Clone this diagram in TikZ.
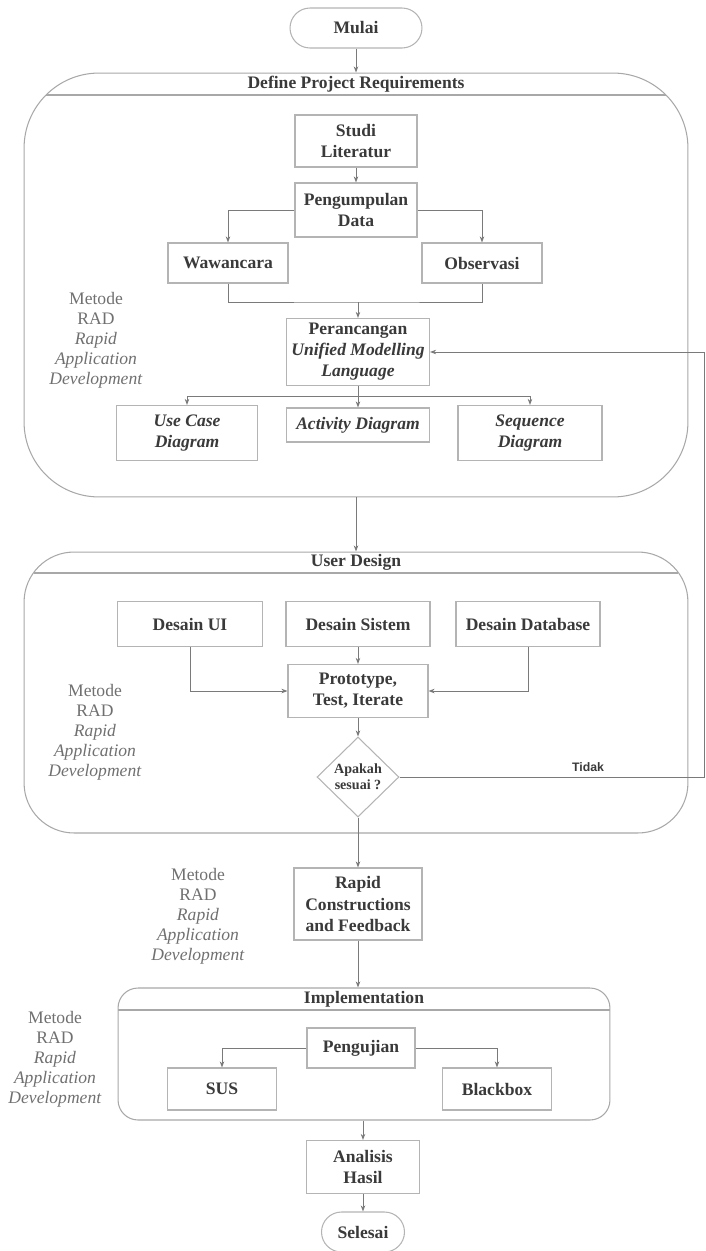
\documentclass[tikz,border=0pt]{standalone}
\usepackage{fontspec}
\setmainfont{Liberation Serif}
\newfontfamily\tidakfont{Liberation Sans}
\usetikzlibrary{arrows.meta,shapes.geometric}
\definecolor{boxline}{HTML}{B4B4B4}
\definecolor{frameline}{HTML}{A8A8A8}
\definecolor{arrline}{HTML}{7A7A7A}
\definecolor{txt}{HTML}{3A3A3A}
\definecolor{radtxt}{HTML}{707070}

\begin{document}
\begin{tikzpicture}[x=0.02cm,y=-0.02cm,
 box/.style={draw=boxline,line width=.6pt,fill=white,text=txt,font=\bfseries,align=center,inner sep=1pt},
 term/.style={box,rounded corners=.4cm},
 frame/.style={draw=frameline,line width=.6pt},
 head/.style={text=txt,font=\bfseries},
 rad/.style={text=radtxt,align=center,font=\fontsize{10}{11.4}\selectfont},
 line/.style={draw=arrline,line width=.5pt},
 conn/.style={line,-{Stealth[length=3.5pt,width=2.6pt]}},
 ]
\useasboundingbox (0,0) rectangle (706,1251);

%Kontainer
\node[frame,rounded corners=1.5cm,minimum width=13.28cm,minimum height=8.48cm] (req) at (356,285) {};
\node[frame,rounded corners=1cm,minimum width=13.28cm,minimum height=5.62cm] (design) at (356,692.5) {};
\node[frame,rounded corners=.4cm,minimum width=9.84cm,minimum height=2.64cm] (impl) at (364,1054) {};
\draw[frame] (46,95) -- (666,95)
 (34,573) -- (678,573)
 (118,1010) -- (610,1010);
\node[head] (reqh) at (356,84) {Define Project Requirements};
\node[head] (desh) at (356,562) {User Design};
\node[head] (implh) at (364,999) {Implementation};

%Metode
\foreach \n/\x/\y in {radA/96/340,radB/95/732,radC/198/916,radD/55/1059}
 \node[rad] (\n) at (\x,\y) {Metode\\RAD\\\textit{Rapid}\\\textit{Application}\\\textit{Development}};

\node[term,minimum width=2.64cm,minimum height=.8cm] (mulai) at (356,28) {Mulai};
\node[box,minimum width=2.44cm,minimum height=1.04cm] (studi) at (356,141) {Studi\\Literatur};
\node[box,minimum width=2.44cm,minimum height=1.08cm] (kumpul) at (356,210) {Pengumpulan\\Data};
\node[box,minimum width=2.4cm,minimum height=.8cm] (wawan) at (228,263) {Wawancara};
\node[box,minimum width=2.4cm,minimum height=.8cm] (obs) at (482,263) {Observasi};
\node[box,minimum width=2.86cm,minimum height=1.34cm] (uml) at (358,352) {Perancangan\\\textit{Unified Modelling}\\\textit{Language}};
\node[box,minimum width=2.82cm,minimum height=1.1cm,font=\bfseries\itshape] (usecase) at (187,433) {Use Case\\Diagram};
\node[box,minimum width=2.86cm,minimum height=.68cm,font=\bfseries\itshape] (activity) at (358,425) {Activity Diagram};
\node[box,minimum width=2.88cm,minimum height=1.1cm,font=\bfseries\itshape] (sequence) at (530,433) {Sequence\\Diagram};

\node[box,minimum width=2.9cm,minimum height=.9cm] (desui) at (190,624) {Desain UI};
\node[box,minimum width=2.88cm,minimum height=.9cm] (dessis) at (358,624) {Desain Sistem};
\node[box,minimum width=2.88cm,minimum height=.9cm] (desdb) at (528,624) {Desain Database};
\node[box,minimum width=2.8cm,minimum height=1.06cm] (proto) at (358,691) {Prototype,\\Test, Iterate};
\node[box,diamond,minimum width=1.64cm,minimum height=1.6cm,inner sep=0pt,font=\bfseries\fontsize{8}{9}\selectfont] (cek) at (358,777) {Apakah\\sesuai ?};
\node[text=txt,font=\tidakfont\bfseries\fontsize{7}{8}\selectfont] (tidak) at (588,767) {Tidak};

\node[box,minimum width=2.56cm,minimum height=1.44cm] (rapid) at (358,904) {Rapid\\Constructions\\and Feedback};
\node[box,minimum width=2.16cm,minimum height=.8cm] (uji) at (361,1048) {Pengujian};
\node[box,minimum width=2.18cm,minimum height=.84cm] (sus) at (222,1089) {SUS};
\node[box,minimum width=2.18cm,minimum height=.84cm] (bb) at (497,1089) {Blackbox};
\node[box,minimum width=2.26cm,minimum height=1.06cm] (analisis) at (363,1167) {Analisis\\Hasil};
\node[term,minimum width=1.66cm,minimum height=.8cm] (selesai) at (363,1232) {Selesai};

\coordinate (join) at (358,302);
\coordinate (split) at (358,396);
\coordinate (loop) at (704,777);

%Pfeile
\draw[conn] (mulai) -- (req.north);
\draw[conn] (studi) -- (kumpul);
\draw[conn] (kumpul.west) -| (wawan.north);
\draw[conn] (kumpul.east) -| (obs.north);
\draw[line] (wawan.south) |- (join) -| (obs.south);
\draw[conn] (join) -- (uml);
\draw[line] (uml.south) -- (split);
\draw[conn] (split) -| (usecase.north);
\draw[conn] (split) -- (activity.north);
\draw[conn] (split) -| (sequence.north);
\draw[conn] (req.south) -- (design.north);
\draw[conn] (desui.south) |- (proto.west);
\draw[conn] (dessis) -- (proto);
\draw[conn] (desdb.south) |- (proto.east);
\draw[conn] (proto) -- (cek.north);
\draw[conn] (cek.east) -- (loop) |- (uml.east);
\draw[conn] (cek.south) -- (rapid.north);
\draw[conn] (rapid.south) -- (rapid.south |- impl.north);
\draw[conn] (uji.west) -| (sus.north);
\draw[conn] (uji.east) -| (bb.north);
\draw[conn] (impl.south -| analisis.north) -- (analisis.north);
\draw[conn] (analisis) -- (selesai);
\end{tikzpicture}
\end{document}
